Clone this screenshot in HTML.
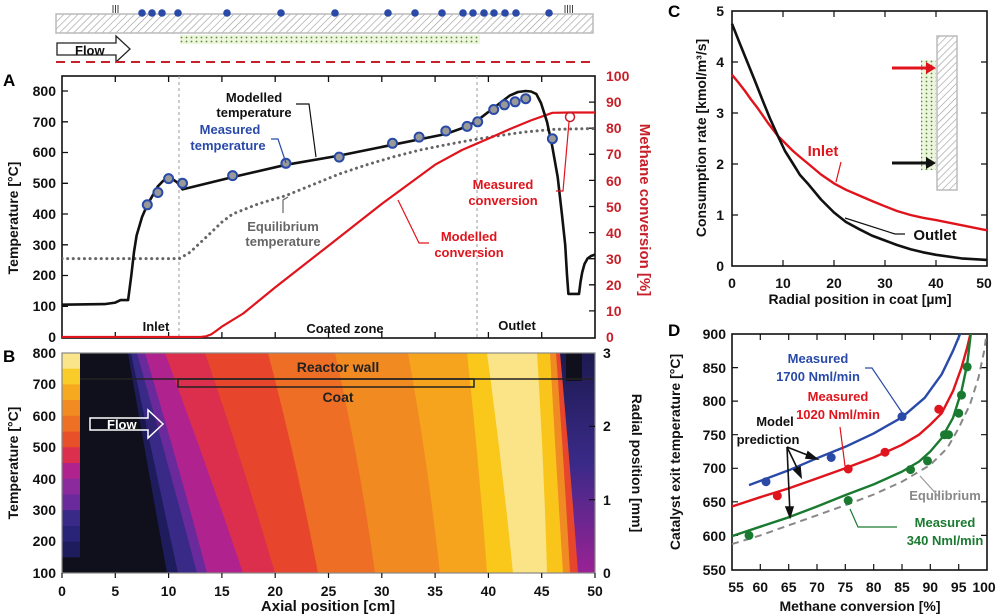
<!DOCTYPE html>
<html><head><meta charset="utf-8">
<style>
html,body{margin:0;padding:0;background:#fff;}
svg{display:block;font-family:"Liberation Sans",Arial,sans-serif;font-weight:bold;}
</style></head>
<body>
<svg width="1000" height="616" viewBox="0 0 1000 616" xmlns="http://www.w3.org/2000/svg">
<defs>
<pattern id="hatch" width="5" height="5" patternUnits="userSpaceOnUse" patternTransform="rotate(45)">
<rect width="5" height="5" fill="#fff"/><line x1="0" y1="0" x2="0" y2="5" stroke="#999" stroke-width="1.2"/></pattern>
<pattern id="dots" width="5" height="4" patternUnits="userSpaceOnUse">
<rect width="5" height="4" fill="#eef5dd"/><circle cx="1.5" cy="1.5" r="0.9" fill="#5a8a3a"/></pattern>
<linearGradient id="endg" x1="0" y1="0" x2="0" y2="1"><stop offset="0" stop-color="#1c1a50"/><stop offset="0.5" stop-color="#3a2a88"/><stop offset="1" stop-color="#9a2295"/></linearGradient>
<clipPath id="clipB"><rect x="80" y="353" width="515" height="220"/></clipPath>
<clipPath id="clipA"><rect x="62" y="76" width="533" height="262"/></clipPath>
<clipPath id="clipD"><rect x="732" y="334" width="255" height="236"/></clipPath>
</defs>

<!-- top schematic -->
<rect x="56" y="14" width="537" height="19" fill="url(#hatch)" stroke="#bbb" stroke-width="1.5"/>
<rect x="180" y="35" width="300" height="9" fill="url(#dots)"/>
<g fill="#2a4aa8">
<circle cx="142" cy="13" r="3.8"/><circle cx="152" cy="13" r="3.8"/><circle cx="162" cy="13" r="3.8"/><circle cx="178" cy="13" r="3.8"/><circle cx="227" cy="13" r="3.8"/><circle cx="281" cy="13" r="3.8"/><circle cx="335" cy="13" r="3.8"/><circle cx="388" cy="13" r="3.8"/><circle cx="415" cy="13" r="3.8"/><circle cx="442" cy="13" r="3.8"/><circle cx="463" cy="13" r="3.8"/><circle cx="473" cy="13" r="3.8"/><circle cx="484" cy="13" r="3.8"/><circle cx="494" cy="13" r="3.8"/><circle cx="505" cy="13" r="3.8"/><circle cx="516" cy="13" r="3.8"/><circle cx="549" cy="13" r="3.8"/></g>
<g stroke="#444" stroke-width="1"><line x1="113" y1="5" x2="113" y2="13"/><line x1="115.5" y1="5" x2="115.5" y2="13"/><line x1="118" y1="5" x2="118" y2="13"/>
<line x1="565" y1="5" x2="565" y2="13"/><line x1="567.5" y1="5" x2="567.5" y2="13"/><line x1="570" y1="5" x2="570" y2="13"/><line x1="572.5" y1="5" x2="572.5" y2="13"/></g>
<path d="M57,43 H116 V36 L130,49 L116,62 V55 H57 Z" fill="#fff" stroke="#222" stroke-width="1.3"/>
<text x="75" y="55" font-size="13" fill="#111">Flow</text>
<line x1="56" y1="62" x2="593" y2="62" stroke="#c8202a" stroke-width="2" stroke-dasharray="9,6"/>

<!-- Panel A -->
<text x="3" y="86" font-size="17">A</text>
<rect x="62" y="76" width="533" height="262" fill="none" stroke="#111" stroke-width="1.6"/>
<g stroke="#111" stroke-width="1.3">
<path d="M115.3,76v6M168.6,76v6M221.9,76v6M275.2,76v6M328.5,76v6M381.8,76v6M435.1,76v6M488.4,76v6M541.7,76v6
M115.3,338v-6M168.6,338v-6M221.9,338v-6M275.2,338v-6M328.5,338v-6M381.8,338v-6M435.1,338v-6M488.4,338v-6M541.7,338v-6
M62,306.3h6M62,275.5h6M62,244.8h6M62,214h6M62,183.3h6M62,152.5h6M62,121.8h6M62,91h6
M595,310.9h-6M595,284.8h-6M595,258.7h-6M595,232.6h-6M595,206.5h-6M595,180.4h-6M595,154.3h-6M595,128.2h-6M595,102.1h-6"/></g>
<line x1="179" y1="76" x2="179" y2="338" stroke="#999" stroke-dasharray="3,3"/>
<line x1="477" y1="76" x2="477" y2="338" stroke="#999" stroke-dasharray="3,3"/>
<g font-size="14" text-anchor="end" fill="#111">
<text x="56" y="342">0</text><text x="56" y="311">100</text><text x="56" y="280">200</text><text x="56" y="250">300</text><text x="56" y="219">400</text><text x="56" y="188">500</text><text x="56" y="157">600</text><text x="56" y="127">700</text><text x="56" y="96">800</text></g>
<g font-size="14" fill="#c8202a" text-anchor="start">
<text x="606" y="342">0</text><text x="606" y="316">10</text><text x="606" y="290">20</text><text x="606" y="264">30</text><text x="606" y="238">40</text><text x="606" y="212">50</text><text x="606" y="186">60</text><text x="606" y="159">70</text><text x="606" y="133">80</text><text x="606" y="107">90</text><text x="606" y="81">100</text></g>
<text transform="translate(18,218) rotate(-90)" font-size="14" text-anchor="middle" fill="#111">Temperature [°C]</text>
<text transform="translate(640,210) rotate(90)" font-size="15" text-anchor="middle" fill="#c8202a">Methane conversion [%]</text>
<g clip-path="url(#clipA)" fill="none" stroke-linejoin="round">
<polyline stroke="#666" stroke-width="3" stroke-dasharray="0.1,5.5" stroke-linecap="round" points="62,258.6 179.3,258.6 189.9,252.4 200,243 211.2,232.4 222,222 232.6,214 258,204 285.9,195.6 312,185 339.2,174 366,165 392.5,157.1 420,150 445.8,144.8 472,140 499.1,135.6 525,132 552.4,129.4 595,128.5"/>
<polyline stroke="#e0141c" stroke-width="2.2" points="62,337 200.6,337 206,336.3 211.2,334.4 216,331 221.9,326.6 243.2,313.5 275.2,287.4 328.5,245.7 381.8,203.9 435.1,164.7 462,150 488.4,138.6 510,129 531,120.4 552.4,112.8 570,112.5 595,112.5"/>
<polyline stroke="#111" stroke-width="2.6" points="62,304.7 104.6,304.1 115.3,302.6 120.6,300.1 128.1,300.1 131.3,275.5 134,252 136.6,235.5 142,217.1 147.3,204.8 157.9,186.3 163,181 168.6,178.6 173,179.5 177.1,182.3 182.5,189.4 232.6,177.1 285.9,164.8 339.2,155.6 392.5,144.8 445.8,134 467.1,126.4 477.7,120.2 493.7,107.9 509.7,95.6 518,92 525.7,91 531,91.5 536.4,94.1 541,103 547,121.8 552,145 557.7,177.1 562,215 565.2,244.8 567,275 568.4,293.9 579,293.9 580.5,282 582.2,272.4 584.5,264 587.5,258.6 591,256 595,254.6"/>
</g>
<g fill="#999" stroke="#2a4aa8" stroke-width="2">
<circle cx="147.3" cy="204.8" r="4.5"/><circle cx="157.9" cy="192.5" r="4.5"/><circle cx="168.6" cy="178.6" r="4.5"/><circle cx="182.5" cy="183.3" r="4.5"/><circle cx="232.6" cy="175.6" r="4.5"/><circle cx="285.9" cy="163.3" r="4.5"/><circle cx="339.2" cy="157.1" r="4.5"/><circle cx="392.5" cy="143.3" r="4.5"/><circle cx="419.1" cy="137.1" r="4.5"/><circle cx="445.8" cy="131" r="4.5"/><circle cx="467.1" cy="126.4" r="4.5"/><circle cx="477.7" cy="121.8" r="4.5"/><circle cx="493.7" cy="109.5" r="4.5"/><circle cx="504.4" cy="104.8" r="4.5"/><circle cx="515.1" cy="101.8" r="4.5"/><circle cx="525.7" cy="98.7" r="4.5"/><circle cx="552.4" cy="138.7" r="4.5"/></g>
<circle cx="570" cy="117" r="4.5" fill="none" stroke="#c8202a" stroke-width="1.5"/>
<g font-size="13" text-anchor="middle">
<text x="254" y="102" fill="#111">Modelled</text><text x="254" y="117" fill="#111">temperature</text>
<text x="230" y="134" fill="#2a4aa8">Measured</text><text x="228" y="150" fill="#2a4aa8">temperature</text>
<text x="283" y="231" fill="#666">Equilibrium</text><text x="283" y="246" fill="#666">temperature</text>
<text x="469" y="241" fill="#e0141c">Modelled</text><text x="469" y="257" fill="#e0141c">conversion</text>
<text x="503" y="189" fill="#e0141c">Measured</text><text x="503" y="205" fill="#e0141c">conversion</text>
<text x="156" y="331" fill="#111">Inlet</text><text x="345" y="333" fill="#111">Coated zone</text><text x="517" y="330" fill="#111">Outlet</text>
</g>
<g fill="none" stroke-width="1.2">
<polyline points="296,104 309,104 316,157" stroke="#111"/>
<polyline points="271,139 278,139 286,163" stroke="#2a4aa8"/>
<polyline points="283,213 283,200 288,197" stroke="#666"/>
<polyline points="429,243 419,243 398,200" stroke="#e0141c"/>
<polyline points="556,191 563,191 569,122" stroke="#e0141c"/>
</g>

<!-- Panel B -->
<text x="3" y="362" font-size="17">B</text>
<g clip-path="url(#clipB)" stroke-width="0.5">
<path d="M80,353 L80,573 L595,573 L595,353 Z" fill="#10101c"/>
<path d="M128,353 Q147,463 167,573 L595,573 L595,353 Z" fill="#1e1c5c"/>
<path d="M131,353 Q154,463 178,573 L595,573 L595,353 Z" fill="#3a2a88"/>
<path d="M137,353 Q168,463 197,573 L595,573 L595,353 Z" fill="#6a2a9c"/>
<path d="M145,353 Q178,463 207,573 L595,573 L595,353 Z" fill="#b0228e"/>
<path d="M165,353 Q206,463 243,573 L595,573 L595,353 Z" fill="#dc2f4e"/>
<path d="M205,353 Q243,463 275,573 L595,573 L595,353 Z" fill="#e8462c"/>
<path d="M268,353 Q297,463 318,573 L595,573 L595,353 Z" fill="#ef6e25"/>
<path d="M335,353 Q360,463 375,573 L595,573 L595,353 Z" fill="#f28a22"/>
<path d="M408,353 Q428,463 440,573 L595,573 L595,353 Z" fill="#f6a41e"/>
<path d="M467,353 Q479,463 487,573 L595,573 L595,353 Z" fill="#f9c81a"/>
<path d="M487,353 Q502,463 513,573 L595,573 L595,353 Z" fill="#fbe488"/>
<path d="M537,353 Q544,463 547,573 L595,573 L595,353 Z" fill="#f9c51b"/>
<path d="M550,353 Q556,463 563,573 L595,573 L595,353 Z" fill="#f08a22"/>
<path d="M556,353 Q564,463 570,573 L595,573 L595,353 Z" fill="#e8462c"/>
<path d="M560,353 Q570,463 578,573 L595,573 L595,353 Z" fill="url(#endg)"/>
<rect x="566" y="353" width="16" height="28" fill="#10101c"/>
</g>
<g>
<rect x="62" y="353" width="18" height="16.2" fill="#fbe58a"/><rect x="62" y="368.7" width="18" height="16.2" fill="#f9cc2a"/><rect x="62" y="384.4" width="18" height="16.2" fill="#f6a81e"/><rect x="62" y="400.1" width="18" height="16.2" fill="#f28c22"/><rect x="62" y="415.8" width="18" height="16.2" fill="#ee7024"/><rect x="62" y="431.6" width="18" height="16.2" fill="#e8502a"/><rect x="62" y="447.3" width="18" height="16.2" fill="#dc2f4e"/><rect x="62" y="463" width="18" height="16.2" fill="#b0228e"/><rect x="62" y="478.7" width="18" height="16.2" fill="#8a2a9c"/><rect x="62" y="494.4" width="18" height="16.2" fill="#6a2a9c"/><rect x="62" y="510.1" width="18" height="16.2" fill="#3a2a88"/><rect x="62" y="525.9" width="18" height="16.2" fill="#2a2478"/><rect x="62" y="541.6" width="18" height="16.2" fill="#1e1c5c"/><rect x="62" y="557.3" width="18" height="15.7" fill="#10101c"/></g>
<line x1="80" y1="379" x2="593" y2="379" stroke="#222" stroke-width="1.5"/>
<rect x="178" y="379" width="296" height="8" fill="none" stroke="#222" stroke-width="1.5"/>
<rect x="62" y="353" width="533" height="220" fill="none" stroke="#888" stroke-width="1.2"/>
<text x="338" y="372" font-size="14" text-anchor="middle" fill="#222">Reactor wall</text>
<text x="338" y="402" font-size="14" text-anchor="middle" fill="#222">Coat</text>
<path d="M90,418 H148 V410 L163,424 L148,438 V430 H90 Z" fill="rgba(0,0,0,0.15)" stroke="#fff" stroke-width="1.5"/>
<text x="107" y="429" font-size="13" fill="#fff">Flow</text>
<g stroke="#111" stroke-width="1.2">
<path d="M62,573v5M115.3,573v5M168.6,573v5M221.9,573v5M275.2,573v5M328.5,573v5M381.8,573v5M435.1,573v5M488.4,573v5M541.7,573v5M595,573v5M595,426.4h-6M595,499.7h-6"/></g>
<g font-size="14" text-anchor="end" fill="#111">
<text x="56" y="358">800</text><text x="56" y="389">700</text><text x="56" y="421">600</text><text x="56" y="452">500</text><text x="56" y="484">400</text><text x="56" y="515">300</text><text x="56" y="546">200</text><text x="56" y="578">100</text></g>
<g font-size="14" fill="#111"><text x="603" y="358">3</text><text x="603" y="431">2</text><text x="603" y="505">1</text><text x="603" y="578">0</text></g>
<text transform="translate(18,463) rotate(-90)" font-size="14" text-anchor="middle" fill="#111">Temperature [°C]</text>
<text transform="translate(632,463) rotate(90)" font-size="14" text-anchor="middle" fill="#111">Radial position [mm]</text>
<g font-size="14" text-anchor="middle" fill="#111">
<text x="62" y="596">0</text><text x="115.3" y="596">5</text><text x="168.6" y="596">10</text><text x="221.9" y="596">15</text><text x="275.2" y="596">20</text><text x="328.5" y="596">25</text><text x="381.8" y="596">30</text><text x="435.1" y="596">35</text><text x="488.4" y="596">40</text><text x="541.7" y="596">45</text><text x="595" y="596">50</text></g>
<text x="328" y="611" font-size="15" text-anchor="middle" fill="#111">Axial position [cm]</text>

<!-- Panel C -->
<text x="668" y="17" font-size="17">C</text>
<rect x="732" y="11" width="255" height="255" fill="none" stroke="#111" stroke-width="1.6"/>
<g stroke="#111" stroke-width="1.2">
<path d="M783,266v-6M834,266v-6M885,266v-6M936,266v-6M783,11v6M834,11v6M885,11v6M936,11v6M732,215h6M732,164h6M732,113h6M732,62h6M987,215h-6M987,164h-6M987,113h-6M987,62h-6"/></g>
<g font-size="14" text-anchor="end" fill="#111">
<text x="724" y="271">0</text><text x="724" y="220">1</text><text x="724" y="169">2</text><text x="724" y="118">3</text><text x="724" y="67">4</text><text x="724" y="16">5</text></g>
<g font-size="14" text-anchor="middle" fill="#111">
<text x="732" y="288">0</text><text x="783" y="288">10</text><text x="834" y="288">20</text><text x="885" y="288">30</text><text x="936" y="288">40</text><text x="984" y="288">50</text></g>
<text x="860" y="304" font-size="14" text-anchor="middle" fill="#111">Radial position in coat [µm]</text>
<text transform="translate(706,138) rotate(-90)" font-size="14" text-anchor="middle" fill="#111">Consumption rate [kmol/m³/s]</text>
<rect x="937" y="36" width="20" height="154" fill="url(#hatch)" stroke="#bbb" stroke-width="1.5"/>
<rect x="921" y="60" width="15" height="110" fill="url(#dots)"/>
<line x1="892" y1="68" x2="928" y2="68" stroke="#e0141c" stroke-width="3"/><path d="M926,62 L936,68 L926,74 Z" fill="#e0141c"/>
<line x1="892" y1="163" x2="928" y2="163" stroke="#111" stroke-width="3"/><path d="M926,157 L936,163 L926,169 Z" fill="#111"/>
<polyline fill="none" stroke="#e0141c" stroke-width="2.4" stroke-linejoin="round" points="732,74.8 738,82 745,91 751,99.5 757.5,107.9 768,123 777.9,136 785,143 793,151 800,157 808.5,164 821,174.5 834,183.4 846,189.8 859.5,195.6 872,201 885,206.3 897,211 910.5,215 923,217.8 936,220.1 961.5,225.2 987,230.3"/>
<polyline fill="none" stroke="#111" stroke-width="2.6" stroke-linejoin="round" points="732,23.8 740,44 747.3,62 755,81 762.6,100.3 770,118.5 777.9,136 785,151 793.2,164 800,175 808.5,184.4 821,199.5 834,212.5 846,222 859.5,229.3 872,235.6 885,240.5 897,245 910.5,249.2 923,252.3 936,254.8 961.5,258.4 987,259.9"/>
<text x="823" y="156" font-size="15" fill="#e0141c" text-anchor="middle">Inlet</text>
<line x1="841" y1="162" x2="836" y2="182" stroke="#e0141c" stroke-width="1.2"/>
<text x="935" y="240" font-size="15" fill="#111" text-anchor="middle">Outlet</text>
<polyline points="905,234 895,234 845,218" fill="none" stroke="#111" stroke-width="1.2"/>

<!-- Panel D -->
<text x="668" y="336" font-size="17">D</text>
<rect x="732" y="334" width="255" height="236" fill="none" stroke="#111" stroke-width="1.6"/>
<g stroke="#111" stroke-width="1.2">
<path d="M760.3,570v-6M788.7,570v-6M817,570v-6M845.3,570v-6M873.7,570v-6M902,570v-6M930.3,570v-6M958.7,570v-6
M760.3,334v6M788.7,334v6M817,334v6M845.3,334v6M873.7,334v6M902,334v6M930.3,334v6M958.7,334v6
M732,535.4h6M732,501.8h6M732,468.3h6M732,434.7h6M732,401.1h6M732,367.6h6
M987,535.4h-6M987,501.8h-6M987,468.3h-6M987,434.7h-6M987,401.1h-6M987,367.6h-6"/></g>
<g font-size="14" text-anchor="end" fill="#111">
<text x="726" y="339">900</text><text x="726" y="373">850</text><text x="726" y="406">800</text><text x="726" y="440">750</text><text x="726" y="473">700</text><text x="726" y="507">650</text><text x="726" y="541">600</text><text x="726" y="575">550</text></g>
<g font-size="14" text-anchor="middle" fill="#111">
<text x="736" y="592">55</text><text x="760.3" y="592">60</text><text x="788.7" y="592">65</text><text x="817" y="592">70</text><text x="845.3" y="592">75</text><text x="873.7" y="592">80</text><text x="902" y="592">85</text><text x="930.3" y="592">90</text><text x="958.7" y="592">95</text><text x="984" y="592">100</text></g>
<text x="860" y="611" font-size="14" text-anchor="middle" fill="#111">Methane conversion [%]</text>
<text transform="translate(680,452) rotate(-90)" font-size="14" text-anchor="middle" fill="#111">Catalyst exit temperature [°C]</text>
<g clip-path="url(#clipD)" fill="none" stroke-linejoin="round">
<polyline stroke="#888" stroke-width="2" stroke-dasharray="7,5" points="732,544.1 760.3,535.4 788.7,525.3 817,515.3 845.3,505.2 873.7,494.5 902,481.7 930.3,464.9 947.3,448.1 958.7,428 970,404.5 978.5,377.6 984.2,350.8 987,330.6"/>
<polyline stroke="#2a4aa8" stroke-width="2.4" points="749,485.1 788.7,470.3 817,458.2 845.3,446.8 873.7,433.4 902,417.3 924.7,397.8 941.7,374.3 953,350.8 961.5,330.6"/>
<polyline stroke="#e0141c" stroke-width="2.4" points="732,506.5 760.3,497.2 788.7,488.4 817,478.4 845.3,468.3 873.7,457.5 902,444.8 919,434.7 930.3,424.6 941.7,413.2 953,391.1 961.5,367.6 967.2,347.4 971.2,330.6"/>
<polyline stroke="#1a7a30" stroke-width="2.4" points="732,536.1 760.3,526.7 788.7,517.3 817,506.5 845.3,495.1 873.7,484.4 902,471.6 919,461.6 930.3,451.5 941.7,438.1 953,417.9 961.5,391.1 967.2,364.2 971.2,330.6"/>
</g>
<g fill="#2a4aa8"><circle cx="766" cy="481.7" r="4.5"/><circle cx="831.2" cy="457.5" r="4.5"/><circle cx="902" cy="416.6" r="4.5"/></g>
<g fill="#e0141c"><circle cx="777.3" cy="495.8" r="4.5"/><circle cx="848.2" cy="469" r="4.5"/><circle cx="885" cy="452.2" r="4.5"/><circle cx="938.8" cy="409.2" r="4.5"/></g>
<g fill="#1a7a30"><circle cx="749" cy="535.4" r="4.5"/><circle cx="848.2" cy="500.5" r="4.5"/><circle cx="910.5" cy="469.6" r="4.5"/><circle cx="927.5" cy="460.9" r="4.5"/><circle cx="944.5" cy="434.7" r="4.5"/><circle cx="948.5" cy="434.7" r="4.5"/><circle cx="958.7" cy="413.2" r="4.5"/><circle cx="961.5" cy="395.1" r="4.5"/><circle cx="967.2" cy="366.9" r="4.5"/></g>
<g font-size="13" text-anchor="middle">
<text x="818" y="363" fill="#2a4aa8">Measured</text><text x="818" y="381" fill="#2a4aa8">1700 Nml/min</text>
<text x="838" y="401" fill="#e0141c">Measured</text><text x="838" y="419" fill="#e0141c">1020 Nml/min</text>
<text x="775" y="426" fill="#111">Model</text><text x="768" y="444" fill="#111">prediction</text>
<text x="945" y="500" fill="#888">Equilibrium</text>
<text x="945" y="527" fill="#1a7a30">Measured</text><text x="945" y="545" fill="#1a7a30">340 Nml/min</text>
</g>
<g fill="none" stroke-width="1.2">
<polyline points="865,368 872,368 903,414" stroke="#2a4aa8"/>
<polyline points="840,427 845,466" stroke="#e0141c"/>
<polyline points="897,527 858,527 850,509" stroke="#1a7a30"/>
<polyline points="940,498 920,476" stroke="#999"/>
</g>
<g stroke="#111" stroke-width="1.6" fill="#111">
<line x1="787" y1="447" x2="815" y2="458"/><path d="M817,459 l-9,-7 l-2,6 z"/>
<line x1="787" y1="447" x2="800" y2="474"/><path d="M801,477 l-1,-10 l-6,3 z"/>
<line x1="787" y1="447" x2="790" y2="514"/><path d="M790,517 l-4,-10 l7,0 z"/>
</g>
</svg>
</body></html>
